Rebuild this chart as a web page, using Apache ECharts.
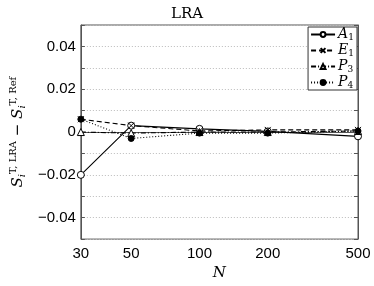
<!DOCTYPE html>
<html><head><meta charset="utf-8">
<script src="https://cdn.jsdelivr.net/npm/echarts@6/dist/echarts.min.js"></script>
<style>html,body{margin:0;padding:0;background:#fff}#c{width:374px;height:286px}</style>
</head><body><div id="c"></div>
<script>
var categories = [30, 50, 100, 200, 500];
var seriesNames = ['A1', 'E1', 'P3', 'P4'];
var A1 = [-0.020, 0.0030, 0.0015, 0.0003, -0.0020];
var E1 = [0.0060, 0.0030, 0.0005, 0.0010, 0.0010];
var P3 = [0.0000, -0.0005, 0.0000, 0.0000, 0.0005];
var P4 = [0.0060, -0.0030, -0.0005, -0.0005, 0.0005];
var yTickLabels = [-0.04, -0.02, 0, 0.02, 0.04];

function pairs(v){ return categories.map(function(c,i){return [c, v[i]];}); }
var X = 'path://M0,0L10,10M10,0L0,10';
var chart = echarts.init(document.getElementById('c'));
var serif = 'DejaVu Serif, Liberation Serif, serif';
var sans = 'Liberation Sans, Arial, sans-serif';
var legendRich = {
  i:{fontFamily:serif, fontStyle:'italic', fontSize:14, lineHeight:14, color:'#000'},
  s:{fontFamily:serif, fontSize:9, lineHeight:14, color:'#000', padding:[6,0,0,0]}
};
function mk(name, data, lt, sym, fill, size){
  return {name:name, type:'line', data:pairs(data), symbol:sym, symbolSize:size,
    showSymbol:true, lineStyle:{color:'#000', width:1.1, type:lt},
    itemStyle:{color:fill, borderColor:'#000', borderWidth:1}, emphasis:{disabled:true}, animation:false};
}
chart.setOption({
  animation:false,
  title:{text:'LRA', left:'center', top:2, textStyle:{fontFamily:serif, fontWeight:'normal', fontSize:15, color:'#000'}},
  grid:{left:69, right:16, top:25, bottom:35, show:true, borderColor:'#555', borderWidth:1},
  legend:{right:17, top:27, orient:'vertical', backgroundColor:'#fff', borderColor:'#333', borderWidth:1,
    padding:[0,3,0,2], itemGap:1, itemWidth:24, itemHeight:6,
    data:seriesNames,
    formatter:function(n){return '{i|'+n[0]+'}{s|'+n[1]+'}';},
    textStyle:{rich:legendRich, padding:[0,0,0,-2]}},
  xAxis:[{type:'log', min:30, max:500, logBase:10,
    name:'N', nameLocation:'middle', nameGap:20,
    nameTextStyle:{fontFamily:serif, fontStyle:'italic', fontSize:15, color:'#000'},
    axisLine:{lineStyle:{color:'#555'}},
    axisTick:{inside:true, length:4, customValues:categories, lineStyle:{color:'#555'}},
    axisLabel:{customValues:categories, fontFamily:sans, fontSize:15, color:'#000', margin:7},
    splitLine:{show:false}, minorTick:{show:false}},
    {type:'log', min:30, max:500, position:'top',
    axisLine:{lineStyle:{color:'#555'}},
    axisTick:{inside:true, length:4, customValues:categories, lineStyle:{color:'#555'}},
    axisLabel:{show:false}, splitLine:{show:false}}],
  yAxis:[{type:'value', min:-0.05, max:0.05, interval:0.01,
    name:'{S|S}{sub|i}{sup|T, LRA}{m| − }{S|S}{sub|i}{sup|T, Ref}', nameLocation:'middle', nameGap:37, nameRotate:90,
    nameTextStyle:{rich:{
      S:{fontFamily:serif, fontStyle:'italic', fontSize:15, color:'#000'},
      sub:{fontFamily:serif, fontStyle:'italic', fontSize:10, color:'#000', padding:[8,0,0,0]},
      sup:{fontFamily:serif, fontSize:10, color:'#000', padding:[0,0,10,0]},
      m:{fontFamily:serif, fontSize:15, color:'#000'}}},
    axisLine:{lineStyle:{color:'#555'}},
    axisTick:{inside:true, length:4, lineStyle:{color:'#555'}},
    axisLabel:{fontFamily:sans, fontSize:15, color:'#000', margin:5,
      formatter:function(v){
        var r = Math.round(v*100)/100;
        for (var k=0;k<yTickLabels.length;k++){ if (Math.abs(yTickLabels[k]-r)<1e-9 && Math.abs(v-r)<1e-9){
          if (r===0) return '0';
          return (r<0?'−':'')+Math.abs(r).toFixed(2);
        }}
        return '';
      }},
    splitLine:{show:true, lineStyle:{color:'#bbb', type:[1,2], width:1}}},
    {type:'value', min:-0.05, max:0.05, interval:0.01, position:'right',
    axisLine:{lineStyle:{color:'#555'}},
    axisTick:{inside:true, length:4, lineStyle:{color:'#555'}},
    axisLabel:{show:false}, splitLine:{show:false}}],
  series:[
    mk('A1', A1, 'solid', 'circle', '#fff', 7),
    mk('E1', E1, [5,3], X, '#fff', 6),
    mk('P3', P3, [5,2,1,2], 'triangle', '#fff', 7),
    mk('P4', P4, [1,2], 'circle', '#000', 6)
  ]
});
</script></body></html>
